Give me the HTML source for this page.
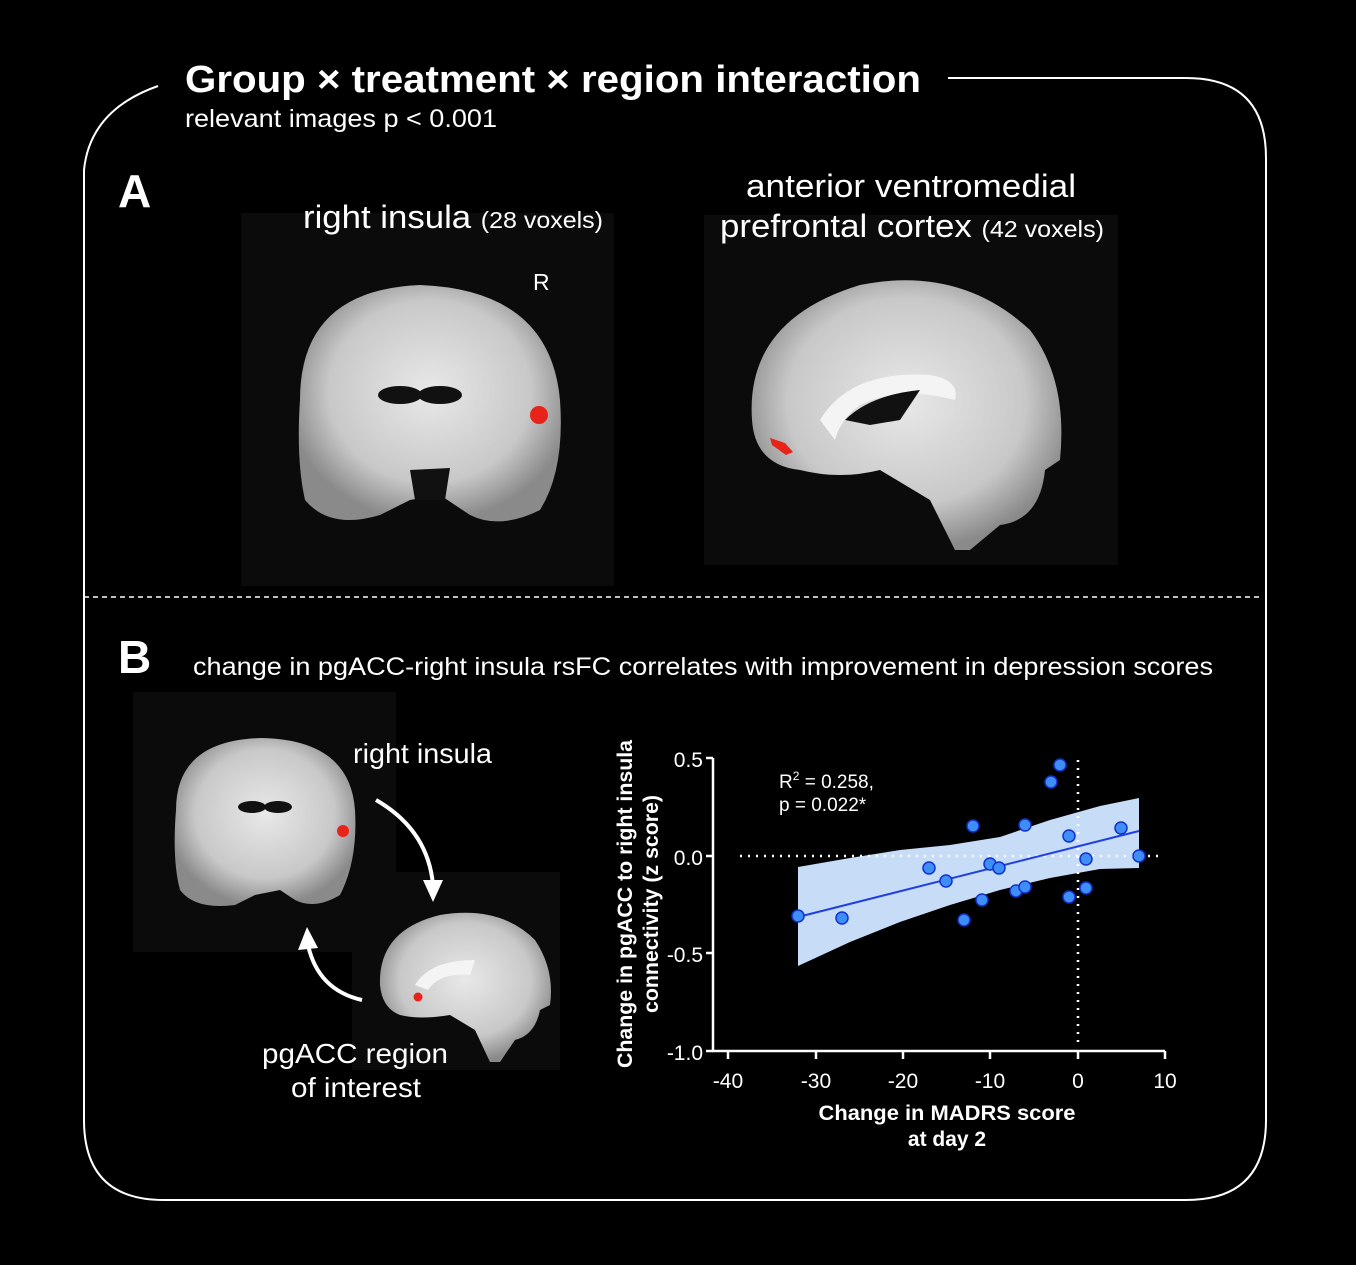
<!DOCTYPE html>
<html><head><meta charset="utf-8"><style>
body{margin:0;background:#000;width:1356px;height:1265px;overflow:hidden}
svg{display:block}
text{font-family:"Liberation Sans",Arial,sans-serif;fill:#fff}
</style></head><body>
<svg width="1356" height="1265" viewBox="0 0 1356 1265">
<defs>
<radialGradient id="br" cx="50%" cy="45%" r="55%">
<stop offset="0" stop-color="#e8e8e8"/><stop offset="0.7" stop-color="#c8c8c8"/><stop offset="1" stop-color="#8a8a8a"/>
</radialGradient>
</defs>
<rect width="1356" height="1265" fill="#000"/>
<path d="M158 86 Q90 110 84 170 L84 1120 Q84 1200 164 1200 L1186 1200 Q1266 1200 1266 1120 L1266 158 Q1266 78 1186 78 L948 78" fill="none" stroke="#fff" stroke-width="2"/>
<text x="185" y="92" font-size="38" font-weight="bold" textLength="736" lengthAdjust="spacingAndGlyphs">Group × treatment × region interaction</text>
<text x="185" y="127" font-size="25" textLength="312" lengthAdjust="spacingAndGlyphs">relevant images p &lt; 0.001</text>
<text x="118" y="207" font-size="46" font-weight="bold">A</text>
<line x1="84" y1="597" x2="1262" y2="597" stroke="#fff" stroke-width="1.5" stroke-dasharray="5,4"/>
<text x="118" y="673" font-size="46" font-weight="bold">B</text>
<text x="193" y="675" font-size="25" textLength="1020" lengthAdjust="spacingAndGlyphs">change in pgACC-right insula rsFC correlates with improvement in depression scores</text>

<rect x="241" y="213" width="373" height="373" fill="#0b0b0b"/>
<path d="M300 400 Q300 290 420 285 Q550 290 560 400 Q565 470 540 510 Q500 530 470 515 L440 495 L410 500 L380 515 Q330 530 305 500 Q296 460 300 400Z" fill="url(#br)"/>
<ellipse cx="400" cy="395" rx="22" ry="9" fill="#111"/><ellipse cx="440" cy="395" rx="22" ry="9" fill="#111"/>
<path d="M410 470 L450 468 L445 500 L415 500Z" fill="#111"/>
<circle cx="539" cy="415" r="9" fill="#e8231a"/>
<text x="303" y="228" font-size="32" textLength="300" lengthAdjust="spacingAndGlyphs">right insula <tspan font-size="23">(28 voxels)</tspan></text>
<text x="533" y="290" font-size="23">R</text>

<rect x="704" y="215" width="414" height="350" fill="#0b0b0b"/>
<path d="M752 420 Q745 320 860 285 Q960 265 1030 330 Q1068 380 1060 460 L1045 470 Q1040 520 1000 525 L970 550 L955 550 L930 500 L880 470 Q840 480 800 470 Q755 465 752 420Z" fill="url(#br)"/>
<path d="M820 420 Q850 370 930 375 Q960 380 955 400 Q900 385 860 405 Q840 420 835 440Z" fill="#f4f4f4"/>
<path d="M845 420 Q870 395 920 390 L900 420 L870 425Z" fill="#111"/>
<path d="M770 438 L785 443 L793 452 L786 455 L772 445Z" fill="#e8231a"/>
<text x="911" y="197" font-size="32" text-anchor="middle" textLength="330" lengthAdjust="spacingAndGlyphs">anterior ventromedial</text>
<text x="720" y="237" font-size="32" textLength="384" lengthAdjust="spacingAndGlyphs">prefrontal cortex <tspan font-size="23">(42 voxels)</tspan></text>

<rect x="133" y="692" width="263" height="260" fill="#0b0b0b"/>
<path d="M176 810 Q176 740 262 738 Q350 740 355 810 Q358 860 340 895 Q315 910 295 900 L280 890 L255 895 L235 905 Q195 910 180 890 Q172 860 176 810Z" fill="url(#br)"/>
<ellipse cx="252" cy="807" rx="14" ry="6" fill="#111"/><ellipse cx="278" cy="807" rx="14" ry="6" fill="#111"/>
<circle cx="343" cy="831" r="6" fill="#e8231a"/>
<text x="353" y="763" font-size="28" textLength="139" lengthAdjust="spacingAndGlyphs">right insula</text>

<rect x="352" y="872" width="208" height="198" fill="#0b0b0b"/>
<path d="M380 985 Q378 930 440 915 Q500 905 535 940 Q555 970 550 1005 L540 1010 Q535 1035 515 1040 L500 1062 L490 1062 L475 1030 L450 1015 Q420 1020 400 1015 Q382 1008 380 985Z" fill="url(#br)"/>
<path d="M415 985 Q430 960 475 960 L470 975 Q440 972 428 990Z" fill="#f4f4f4"/>
<circle cx="418" cy="997" r="4.5" fill="#e8231a"/>
<text x="355" y="1063" font-size="28" text-anchor="middle" textLength="186" lengthAdjust="spacingAndGlyphs">pgACC region</text>
<text x="356" y="1097" font-size="28" text-anchor="middle" textLength="130" lengthAdjust="spacingAndGlyphs">of interest</text>

<path d="M376 800 Q428 830 433 885" fill="none" stroke="#fff" stroke-width="4"/>
<polygon points="423,880 443,880 433,902" fill="#fff"/>
<path d="M362 1000 Q318 990 308 945" fill="none" stroke="#fff" stroke-width="4"/>
<polygon points="298,950 318,948 307,927" fill="#fff"/>

<path d="M798 867 L850 858 L900 850 L950 845 L1000 837 L1050 820 L1100 806 L1139 798 L1139 868 L1100 869 L1050 878 L1000 890 L950 905 L900 922 L850 942 L798 966Z" fill="#c7dcf7"/>
<line x1="740" y1="856" x2="1160" y2="856" stroke="#fff" stroke-width="2.5" stroke-dasharray="2,6"/>
<line x1="1078" y1="760" x2="1078" y2="1048" stroke="#fff" stroke-width="2.5" stroke-dasharray="2,6"/>
<line x1="798" y1="917" x2="1139" y2="831" stroke="#1f3fe0" stroke-width="2"/>
<g fill="#3f8ef5" stroke="#1030d0" stroke-width="1.5">
<circle cx="798" cy="916" r="6"/><circle cx="842" cy="918" r="6"/><circle cx="929" cy="868" r="6"/>
<circle cx="946" cy="881" r="6"/><circle cx="964" cy="920" r="6"/><circle cx="973" cy="826" r="6"/>
<circle cx="982" cy="900" r="6"/><circle cx="990" cy="864" r="6"/><circle cx="999" cy="868" r="6"/>
<circle cx="1016" cy="891" r="6"/><circle cx="1025" cy="887" r="6"/><circle cx="1025" cy="825" r="6"/>
<circle cx="1051" cy="782" r="6"/><circle cx="1060" cy="765" r="6"/><circle cx="1069" cy="836" r="6"/>
<circle cx="1069" cy="897" r="6"/><circle cx="1086" cy="859" r="6"/><circle cx="1086" cy="888" r="6"/>
<circle cx="1121" cy="828" r="6"/><circle cx="1139" cy="856" r="6"/>
</g>
<g stroke="#fff" stroke-width="2.5" fill="none">
<path d="M713 758 L713 1051 L1165 1051"/>
<path d="M706 758 H713 M706 856 H713 M706 953 H713 M706 1051 H713"/>
<path d="M728 1051 V1059 M816 1051 V1059 M903 1051 V1059 M990 1051 V1059 M1078 1051 V1059 M1165 1051 V1059"/>
</g>
<g font-size="21" text-anchor="end">
<text x="703" y="767">0.5</text><text x="703" y="865">0.0</text><text x="703" y="962">-0.5</text><text x="703" y="1060">-1.0</text>
</g>
<g font-size="21" text-anchor="middle">
<text x="728" y="1088">-40</text><text x="816" y="1088">-30</text><text x="903" y="1088">-20</text><text x="990" y="1088">-10</text><text x="1078" y="1088">0</text><text x="1165" y="1088">10</text>
</g>
<text x="947" y="1120" font-size="21" font-weight="bold" text-anchor="middle" textLength="257" lengthAdjust="spacingAndGlyphs">Change in MADRS score</text>
<text x="947" y="1146" font-size="21" font-weight="bold" text-anchor="middle">at day 2</text>
<text transform="translate(632 904) rotate(-90)" font-size="21" font-weight="bold" text-anchor="middle" textLength="328" lengthAdjust="spacingAndGlyphs">Change in pgACC to right insula</text>
<text transform="translate(658 904) rotate(-90)" font-size="21" font-weight="bold" text-anchor="middle" textLength="218" lengthAdjust="spacingAndGlyphs">connectivity (z score)</text>
<text x="779" y="788" font-size="19">R<tspan font-size="12" dy="-8">2</tspan><tspan dy="8"> = 0.258,</tspan></text>
<text x="779" y="811" font-size="19">p = 0.022*</text>
</svg>
</body></html>
